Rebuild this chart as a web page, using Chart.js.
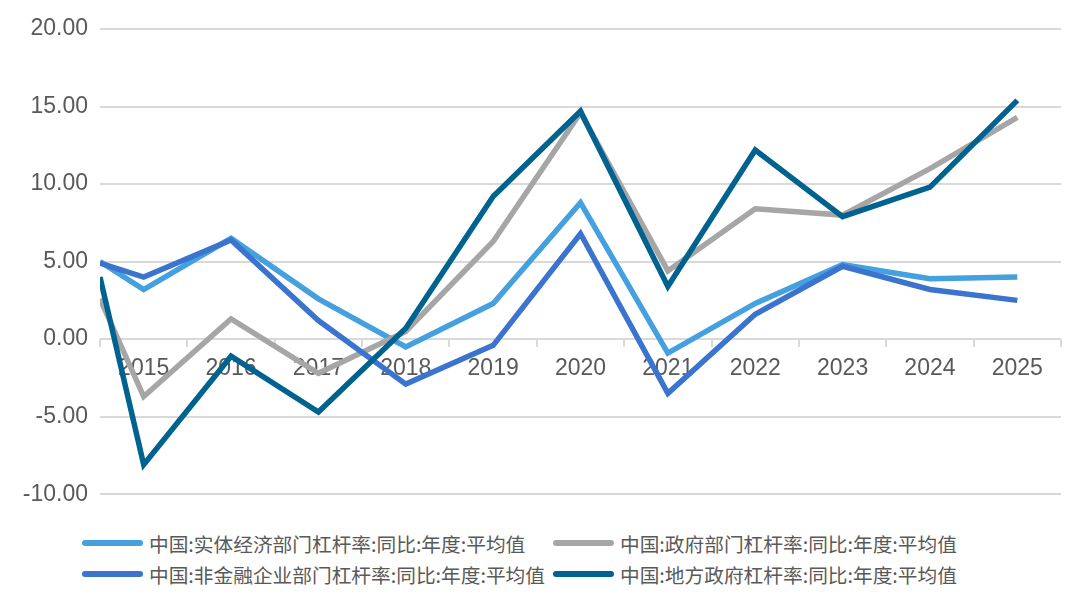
<!DOCTYPE html>
<html>
<head>
<meta charset="utf-8">
<script src="https://cdn.jsdelivr.net/npm/chart.js@4/dist/chart.umd.min.js"></script>
<style>
  html, body { margin: 0; padding: 0; background: #fff; }
  #wrap { position: relative; width: 1076px; height: 600px; overflow: hidden; }
  #chartBox { position: absolute; left: 0; top: 0; width: 1076px; height: 520px; }
  .leg { position: absolute; height: 30px; display: flex; align-items: center;
         font-family: "Noto Sans CJK SC", "Noto Sans", sans-serif; font-size: 19.7px; color: #595959; white-space: nowrap; }
  .leg .ln { width: 61px; height: 6px; border-radius: 3px; margin-right: 6px; }
</style>
</head>
<body>
<div id="wrap">
  <div id="chartBox"><canvas id="c"></canvas></div>
  <div id="legend"></div>
</div>
<script>
// x positions: first value sits at the left edge (half year before 2015)
const xPositions = [2014.5, 2015, 2016, 2017, 2018, 2019, 2020, 2021, 2022, 2023, 2024, 2025];
const tickLabels = ['2015','2016','2017','2018','2019','2020','2021','2022','2023','2024','2025'];

const seriesNames = [
  '中国:实体经济部门杠杆率:同比:年度:平均值',
  '中国:政府部门杠杆率:同比:年度:平均值',
  '中国:非金融企业部门杠杆率:同比:年度:平均值',
  '中国:地方政府杠杆率:同比:年度:平均值'
];
const realEconomy   = [5.0, 3.2, 6.5, 2.6, -0.5, 2.3, 8.8, -0.9, 2.3, 4.8, 3.9, 4.0];
const government    = [2.6, -3.7, 1.3, -2.2, 0.5, 6.3, 14.6, 4.4, 8.4, 8.0, 11.0, 14.3];
const nonFinCorp    = [4.9, 4.0, 6.4, 1.2, -2.9, -0.4, 6.8, -3.5, 1.6, 4.7, 3.2, 2.5];
const localGov      = [4.0, -8.1, -1.1, -4.7, 0.7, 9.2, 14.7, 3.4, 12.2, 7.9, 9.8, 15.4];

const colors = ['#44A0DE', '#A6A6A6', '#3A74CE', '#00628F'];
const seriesValues = [realEconomy, government, nonFinCorp, localGov];

const datasets = [0, 1, 2, 3].map(i => ({
  label: seriesNames[i],
  data: xPositions.map((x, k) => ({ x: x, y: seriesValues[i][k] })),
  borderColor: colors[i],
  backgroundColor: colors[i],
  borderWidth: 5.5,
  pointRadius: 0,
  tension: 0,
  borderJoinStyle: 'miter',
  borderCapStyle: 'butt',
  order: 4 - i
}));

const font = { family: '"Liberation Sans", Arial, Helvetica, sans-serif', size: 23 };

new Chart(document.getElementById('c'), {
  type: 'line',
  data: { datasets },
  options: {
    responsive: true,
    maintainAspectRatio: false,
    animation: false,
    layout: { padding: { top: 29, right: 15, bottom: 24, left: 0 } },
    plugins: { legend: { display: false }, tooltip: { enabled: false } },
    scales: {
      x: {
        type: 'linear',
        position: { y: 0 },
        min: 2014.5,
        max: 2025.5,
        afterBuildTicks: s => { s.ticks = tickLabels.map(t => ({ value: Number(t) })); },
        afterFit: s => { s.height = 0; },
        ticks: {
          callback: (v) => String(v),
          font: font,
          color: '#595959',
          padding: 8,
          maxRotation: 0,
          autoSkip: false
        },
        grid: { display: true, offset: true, drawOnChartArea: false, drawTicks: true, tickLength: 8, color: '#D9D9D9', lineWidth: 2 },
        border: { display: false }
      },
      y: {
        min: -10,
        max: 20,
        afterFit: s => { s.width = 100; },
        ticks: {
          stepSize: 5,
          callback: v => v.toFixed(2),
          font: font,
          color: '#595959',
          padding: 12
        },
        grid: { color: '#D9D9D9', lineWidth: 2, drawTicks: false },
        border: { display: false }
      }
    }
  }
});

// HTML legend (two columns)
const legendPos = [
  { left: 82, top: 528 }, { left: 553, top: 528 },
  { left: 82, top: 559 }, { left: 553, top: 559 }
];
const legend = document.getElementById('legend');
[0, 1, 2, 3].forEach((i, k) => {
  const d = document.createElement('div');
  d.className = 'leg';
  d.style.left = legendPos[k].left + 'px';
  d.style.top = legendPos[k].top + 'px';
  const ln = document.createElement('span');
  ln.className = 'ln';
  ln.style.background = colors[i];
  const tx = document.createElement('span');
  tx.textContent = seriesNames[i];
  d.appendChild(ln); d.appendChild(tx);
  legend.appendChild(d);
});
</script>
</body>
</html>
